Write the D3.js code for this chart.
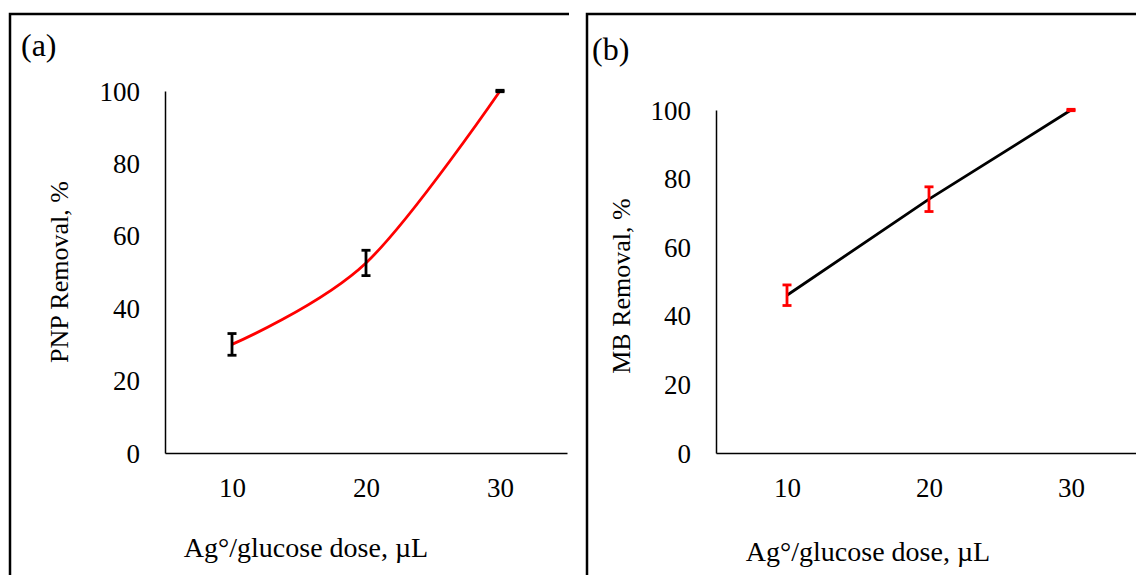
<!DOCTYPE html>
<html>
<head>
<meta charset="utf-8">
<script src="https://cdn.jsdelivr.net/npm/d3@7"></script>
<style>
  body { margin: 0; background: #fff; }
  text { font-family: "Liberation Serif", "Times New Roman", serif; fill: #000; }
</style>
</head>
<body>
<script>
// data
const doses = [10, 20, 30]
const pnpRemoval = [30, 52.5, 100]
const pnpError = [3, 3.5, 0.2]
const mbRemoval = [46, 74, 100]
const mbError = [3, 3.6, 0.2]
const yTicks = [0, 20, 40, 60, 80, 100]
const xTicks = [10, 20, 30]

const W = 1136, H = 575

const svg = d3.select("body").append("svg")
    .attr("width", W)
    .attr("height", H)

// panel frames (only top + left edges are visible in the crop)
svg.append("path")
    .attr("d", "M10,575 V14 H569")
    .attr("fill", "none").attr("stroke", "#000").attr("stroke-width", 2.5)
svg.append("path")
    .attr("d", "M587,575 V14 H1136")
    .attr("fill", "none").attr("stroke", "#000").attr("stroke-width", 2.5)

function panel(opt) {
    const g = svg.append("g")
    const x = d3.scaleLinear().domain([5, 35]).range(opt.xRange)
    const y = d3.scaleLinear().domain([0, 100]).range(opt.yRange)

    // panel letter
    g.append("text")
        .attr("x", opt.labelX).attr("y", opt.labelY)
        .attr("font-size", "32px")
        .text(opt.label)

    // axes: plain lines, no tick marks
    const yAxis = d3.axisLeft(y).tickValues(yTicks).tickSize(0).tickPadding(25)
    const yg = g.append("g").attr("transform", `translate(${opt.xRange[0]},0)`).call(yAxis)
    yg.select(".domain").attr("stroke", "#000").attr("stroke-width", 1.5)
    yg.selectAll("text").attr("font-size", "27px").attr("font-family", "Liberation Serif").attr("dy", "0.34em")

    const xAxis = d3.axisBottom(x).tickValues(xTicks).tickSize(0).tickPadding(25)
    const xg = g.append("g").attr("transform", `translate(0,${opt.yRange[0]})`).call(xAxis)
    xg.select(".domain").attr("stroke", "#000").attr("stroke-width", 1.5)
    xg.selectAll("text").attr("font-size", "27px").attr("font-family", "Liberation Serif")

    // axis titles
    g.append("text")
        .attr("transform", `translate(${opt.yTitleX},${opt.yTitleY}) rotate(-90)`)
        .attr("text-anchor", "middle")
        .attr("font-size", "26px")
        .text(opt.yTitle)
    g.append("text")
        .attr("x", opt.xTitleX).attr("y", opt.xTitleY)
        .attr("text-anchor", "middle")
        .attr("font-size", "28px")
        .text("Ag\u00b0/glucose dose, \u00b5L")

    const pts = doses.map((d, i) => ({ x: d, y: opt.values[i], e: opt.errors[i] }))

    // series line
    const line = d3.line()
        .x(d => x(d.x))
        .y(d => y(d.y))
        .curve(opt.smooth ? d3.curveCatmullRom.alpha(0) : d3.curveLinear)
    g.append("path")
        .datum(pts)
        .attr("d", line)
        .attr("fill", "none")
        .attr("stroke", opt.lineColor)
        .attr("stroke-width", 2.8)

    // error bars
    const eb = g.selectAll(".eb").data(pts).enter().append("g")
    eb.append("line")
        .attr("x1", d => x(d.x)).attr("x2", d => x(d.x))
        .attr("y1", d => y(d.y - d.e)).attr("y2", d => y(d.y + d.e))
        .attr("stroke", opt.errColor).attr("stroke-width", 2.8)
    eb.selectAll(".cap").data(d => [[d.x, d.y - d.e], [d.x, d.y + d.e]]).enter().append("line")
        .attr("x1", d => x(d[0]) - 4.5).attr("x2", d => x(d[0]) + 4.5)
        .attr("y1", d => y(d[1])).attr("y2", d => y(d[1]))
        .attr("stroke", opt.errColor).attr("stroke-width", 2.8)
}

panel({
    label: "(a)", labelX: 21, labelY: 56,
    xRange: [165, 567], yRange: [453, 91],
    yTitle: "PNP Removal, %", yTitleX: 68, yTitleY: 272,
    xTitleX: 306, xTitleY: 557,
    values: pnpRemoval, errors: pnpError,
    lineColor: "#ff0000", errColor: "#000", smooth: true
})

panel({
    label: "(b)", labelX: 592, labelY: 60,
    xRange: [716, 1142], yRange: [453, 110],
    yTitle: "MB Removal, %", yTitleX: 630, yTitleY: 286,
    xTitleX: 868, xTitleY: 561,
    values: mbRemoval, errors: mbError,
    lineColor: "#000", errColor: "#ff0000", smooth: false
})
</script>
</body>
</html>
